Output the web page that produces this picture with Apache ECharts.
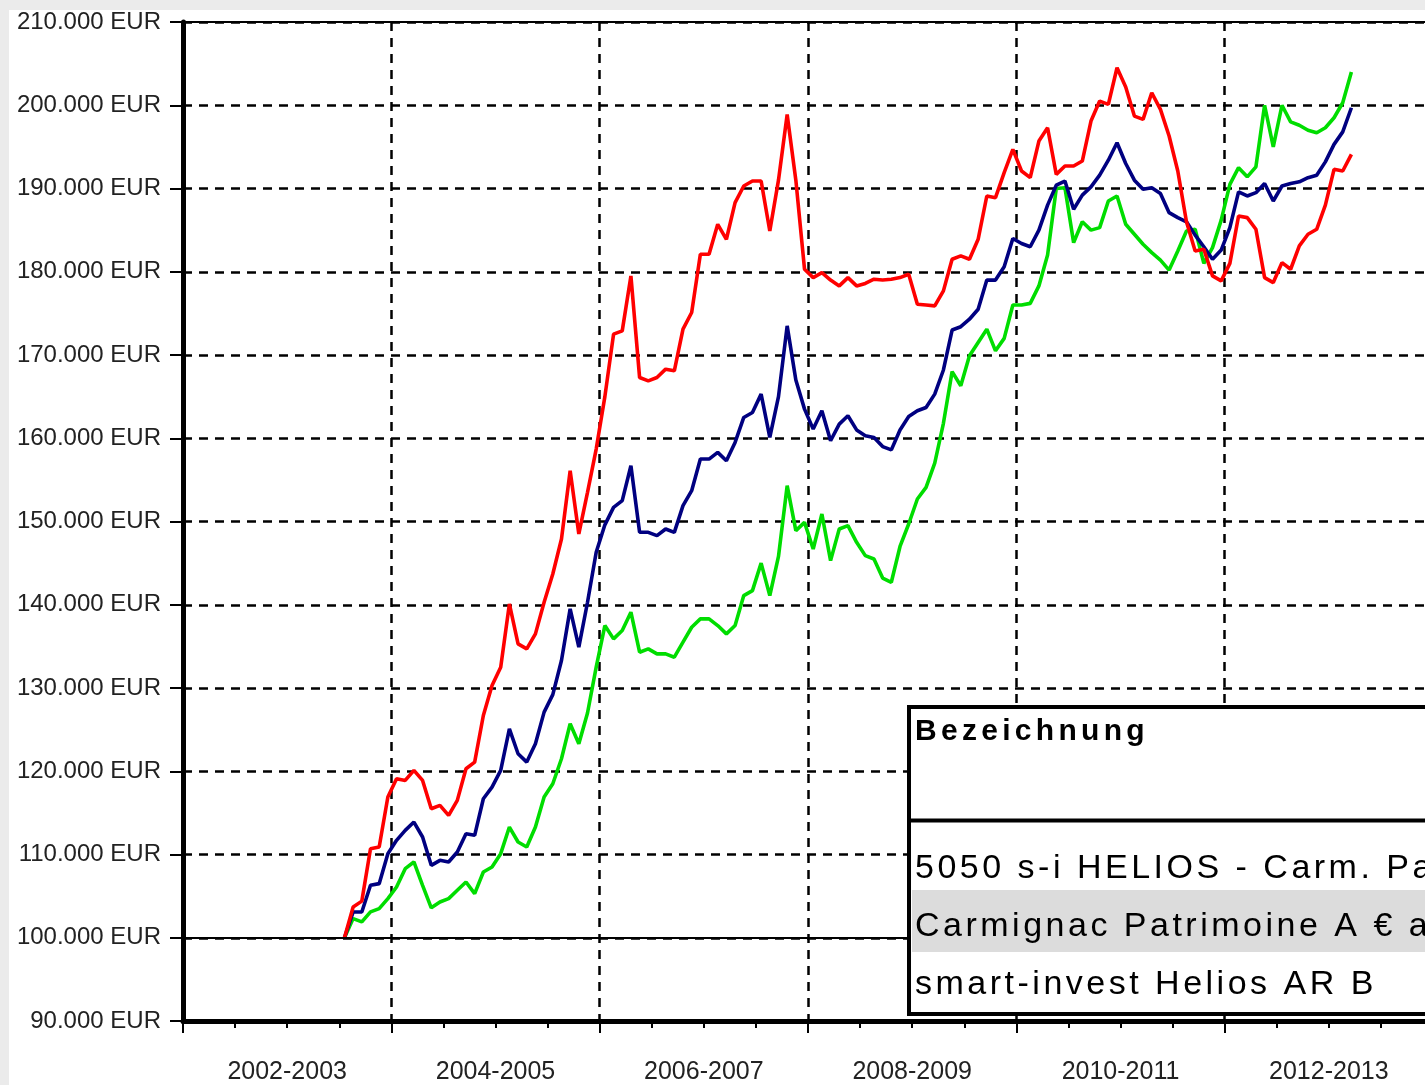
<!DOCTYPE html>
<html>
<head>
<meta charset="utf-8">
<script src="https://cdn.jsdelivr.net/npm/echarts@6/dist/echarts.min.js"></script>
<style>
  html, body { margin: 0; padding: 0; width: 1425px; height: 1085px; overflow: hidden; background: #ebebeb; }
  #main { position: absolute; left: 9px; top: 10px; width: 1441px; height: 1075px; background: #fff; }
</style>
</head>
<body>
<div id="main"></div>
<script>
// x axis: months counted from Jan 2002, one period label per two years
const periods = ['2002-2003', '2004-2005', '2006-2007', '2008-2009', '2010-2011', '2012-2013']
const startMonth = 18.6 // first value, mid 2003 (monthly values after that)

// Werte in Tausend EUR
const carmignac = [
  100, 103.7, 104.4, 110.7, 110.9, 116.9, 119.1, 118.9, 120.1, 118.9,
  115.5, 115.9, 114.7, 116.5, 120.3, 121.1, 126.7, 130.3, 132.5, 140.1,
  135.3, 134.7, 136.5, 140.3, 143.7, 147.9, 156.1, 148.5, 153.5, 158.7,
  165.0, 172.5, 172.9, 179.5, 167.3, 166.9, 167.3, 168.3, 168.1, 173.1,
  175.1, 182.1, 182.1, 185.7, 183.9, 188.3, 190.3, 190.9, 190.9, 184.9,
  191.0, 198.9, 191.0, 180.3, 179.3, 179.9, 179.0, 178.3, 179.3, 178.3,
  178.6, 179.1, 179.0, 179.1, 179.3, 179.7, 176.1, 176.0, 175.9, 177.7,
  181.5, 181.9, 181.5, 183.9, 189.1, 188.9, 191.9, 194.7, 192.1, 191.3,
  195.7, 197.3, 191.7, 192.7, 192.7, 193.3, 198.1, 200.5, 200.1, 204.5,
  202.2, 198.7, 198.3, 201.5, 199.5, 196.3, 192.1, 186.0, 182.5, 182.7,
  179.5, 178.9, 181.0, 186.7, 186.5, 185.1, 179.3, 178.7, 181.1, 180.3,
  183.1, 184.5, 185.1, 188.0, 192.3, 192.1, 194.1
]
const mix5050 = [
  100, 103.1, 103.1, 106.3, 106.5, 110.1, 111.7, 112.9, 113.9, 112.1,
  108.7, 109.3, 109.1, 110.3, 112.5, 112.3, 116.7, 118.1, 120.1, 125.1,
  122.1, 121.1, 123.3, 127.1, 129.2, 133.3, 139.5, 134.9, 140.3, 146.3,
  149.6, 151.7, 152.5, 156.7, 148.7, 148.7, 148.3, 149.1, 148.7, 151.9,
  153.7, 157.5, 157.5, 158.3, 157.3, 159.5, 162.5, 163.1, 165.3, 160.1,
  165.0, 173.5, 167.0, 163.5, 161.1, 163.3, 159.7, 161.7, 162.7, 161.0,
  160.3, 160.1, 159.0, 158.6, 161.0, 162.6, 163.3, 163.7, 165.3, 168.2,
  173.0, 173.4, 174.3, 175.5, 179.0, 179.0, 180.6, 184.0, 183.4, 183.0,
  185.0, 188.0, 190.4, 190.9, 187.5, 189.2, 190.2, 191.6, 193.4, 195.5,
  193.0, 191.0, 189.9, 190.1, 189.4, 187.1, 186.5, 186.0, 184.4, 183.0,
  181.5, 182.6, 185.3, 189.6, 189.1, 189.5, 190.6, 188.5, 190.3, 190.6,
  190.8, 191.3, 191.6, 193.2, 195.3, 196.8, 199.7
]
const helios = [
  100, 102.3, 101.9, 103.1, 103.5, 104.7, 106.1, 108.3, 109.1, 106.3,
  103.6, 104.3, 104.7, 105.7, 106.7, 105.3, 107.9, 108.5, 110.1, 113.3,
  111.5, 110.9, 113.3, 116.9, 118.5, 121.5, 125.7, 123.3, 127.0, 132.5,
  137.5, 135.9, 136.9, 139.1, 134.3, 134.7, 134.1, 134.1, 133.7, 135.5,
  137.3, 138.3, 138.3, 137.5, 136.5, 137.5, 141.1, 141.7, 145.0, 141.1,
  145.8, 154.3, 148.9, 149.9, 146.7, 150.9, 145.3, 149.1, 149.5, 147.5,
  145.9, 145.5, 143.2, 142.7, 147.0, 149.7, 152.7, 154.1, 157.0, 161.8,
  168.0, 166.3, 169.9, 171.5, 173.1, 170.5, 172.0, 176.0, 176.0, 176.2,
  178.3, 182.0, 190.0, 190.1, 183.5, 186.0, 185.0, 185.3, 188.5, 189.1,
  185.7, 184.5, 183.3, 182.3, 181.4, 180.2, 182.5, 184.9, 185.1, 181.0,
  182.9, 186.2, 190.5, 192.5, 191.4, 192.6, 200.0, 195.0, 200.0, 198.0,
  197.6, 197.0, 196.7, 197.3, 198.5, 200.3, 204.0
]
const legendTitle = 'Bezeichnung'
const names = ['5050 s-i HELIOS - Carm. Patrimoine', 'Carmignac Patrimoine A € acc', 'smart-invest Helios AR B']

const FONT = '"Liberation Sans", Arial, sans-serif'
const toPoints = (arr) => arr.map((v, i) => [startMonth + i, v])

// echarts text has no letter-spacing, so the legend is laid out char by char
const measure = document.createElement('canvas').getContext('2d')
function spacedText(str, x, y, size, weight, spacing) {
  const font = weight + ' ' + size + 'px ' + FONT
  measure.font = font
  const out = []
  let cx = x
  for (const ch of str) {
    out.push({
      type: 'text', x: cx, y: y, z: 110, silent: true,
      style: { text: ch, font: font, fill: '#000', align: 'left', verticalAlign: 'middle' }
    })
    cx += measure.measureText(ch).width + spacing
  }
  return out
}

const myChart = echarts.init(document.getElementById('main'), null, { renderer: 'canvas' })

const dash = [9, 7]
myChart.setOption({
  animation: false,
  backgroundColor: '#fff',
  grid: { left: 174, top: 12, right: 17, bottom: 63 },
  xAxis: [
    {
      type: 'value',
      min: 0,
      max: 144,
      interval: 24,
      axisLine: { show: true, lineStyle: { color: '#000', width: 5 } },
      axisTick: { show: true, length: 12, lineStyle: { color: '#000', width: 2 } },
      minorTick: { show: true, splitNumber: 4, length: 7, lineStyle: { color: '#000', width: 2 } },
      axisLabel: { show: false },
      splitLine: { show: true, lineStyle: { color: '#000', width: 2.5, type: dash } }
    },
    {
      type: 'category',
      position: 'bottom',
      data: periods,
      axisLine: { show: false },
      axisTick: { show: false },
      splitLine: { show: false },
      axisLabel: { margin: 39, fontSize: 25, fontFamily: FONT, color: '#222' }
    }
  ],
  yAxis: {
    type: 'value',
    min: 90,
    max: 210,
    interval: 10,
    axisLine: { show: true, lineStyle: { color: '#000', width: 5 } },
    axisTick: { show: true, length: 13, lineStyle: { color: '#000', width: 2 } },
    axisLabel: {
      margin: 22,
      fontSize: 24,
      fontFamily: FONT,
      color: '#222',
      formatter: (v) => v + '.000 EUR'
    },
    splitLine: { show: true, lineStyle: { color: '#000', width: 2.5, type: dash } }
  },
  series: [
    {
      name: names[2],
      type: 'line',
      data: toPoints(helios),
      symbol: 'none',
      lineStyle: { color: '#00dd00', width: 3.6 },
      markLine: {
        silent: true,
        symbol: 'none',
        label: { show: false },
        lineStyle: { color: '#000', width: 2, type: 'solid' },
        data: [{ yAxis: 100 }, { yAxis: 210 }]
      }
    },
    {
      name: names[0],
      type: 'line',
      data: toPoints(mix5050),
      symbol: 'none',
      lineStyle: { color: '#000080', width: 3.6 }
    },
    {
      name: names[1],
      type: 'line',
      data: toPoints(carmignac),
      symbol: 'none',
      lineStyle: { color: '#ff0000', width: 3.6 }
    }
  ],
  graphic: {
    elements: [
      {
        type: 'rect', z: 100, silent: true,
        shape: { x: 900, y: 697, width: 600, height: 307 },
        style: { fill: '#fff', stroke: '#000', lineWidth: 4 }
      },
      {
        type: 'rect', z: 101, silent: true,
        shape: { x: 903, y: 880, width: 600, height: 62 },
        style: { fill: '#dcdcdc' }
      },
      {
        type: 'line', z: 101, silent: true,
        shape: { x1: 900, y1: 810.5, x2: 1500, y2: 810.5 },
        style: { stroke: '#000', lineWidth: 4 }
      }
    ]
      .concat(spacedText(legendTitle, 906, 722, 30, 'bold', 4.3))
      .concat(spacedText(names[0], 906, 859, 34, 'normal', 3.5))
      .concat(spacedText(names[1], 906, 917, 34, 'normal', 3.5))
      .concat(spacedText(names[2], 906, 975, 34, 'normal', 3.5))
  }
})
</script>
</body>
</html>
